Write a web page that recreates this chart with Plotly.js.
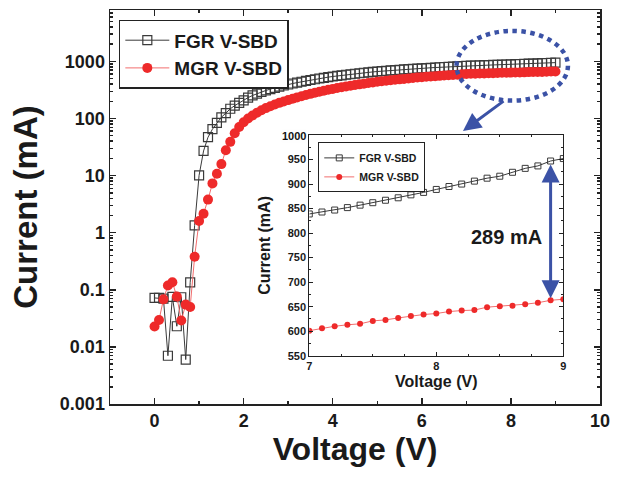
<!DOCTYPE html>
<html>
<head>
<meta charset="utf-8">
<script src="https://cdn.plot.ly/plotly-3.0.1.min.js"></script>
<style>html,body{margin:0;padding:0;background:#fff;}#chart{width:620px;height:478px;}</style>
</head>
<body>
<div id="chart"></div>
<script>
// Voltage (V)
const voltage = [0.0,0.1,0.2,0.3,0.4,0.5,0.6,0.7,0.8,0.9,
  1.0,1.1,1.2,1.3,1.4,1.5,1.6,1.7,1.8,1.9,
  2.0,2.1,2.2,2.3,2.4,2.5,2.6,2.7,2.8,2.9,
  3.0,3.1,3.2,3.3,3.4,3.5,3.6,3.7,3.8,3.9,
  4.0,4.1,4.2,4.3,4.4,4.5,4.6,4.7,4.8,4.9,
  5.0,5.1,5.2,5.3,5.4,5.5,5.6,5.7,5.8,5.9,
  6.0,6.1,6.2,6.3,6.4,6.5,6.6,6.7,6.8,6.9,
  7.0,7.1,7.2,7.3,7.4,7.5,7.6,7.7,7.8,7.9,
  8.0,8.1,8.2,8.3,8.4,8.5,8.6,8.7,8.8,8.9,9.0];
// FGR V-SBD current (mA)
const fgrCurrent = [0.072,0.072,0.07,0.007,0.075,0.023,0.074,0.006,0.135,1.34,
  10.1,27,47,65,84,105,124,148,168,188,
  208,232,253,273,292,310,328,345,362,378,
  394,410,425,440,456,472,487,502,516,530,
  544,557,570,583,596,608,620,632,643,654,
  665,675,685,695,705,714,723,732,741,749,
  757,765,773,781,789,797,805,813,821,830,
  839,843,847,852,857,862,867,872,878,883,
  889,895,900,906,912,916,924,932,937,947,952];
// MGR V-SBD current (mA)
const mgrCurrent = [0.0227,0.0295,0.068,0.119,0.136,0.076,0.029,0.055,0.05,0.38,
  1.6,2.15,3.8,7.3,10.8,15.9,27.8,39,55,71,
  86,100,113,126,139,152,164,176,188,199,
  210,222,234,246,258,270,282,294,306,318,
  330,341,352,363,374,385,396,407,418,429,
  440,449,458,467,476,485,494,503,512,521,
  530,537,544,551,558,565,572,579,586,594,
  601,606,610,613,615,621,623,627,631,634,
  636,640,642,643,649,651,652,655,658,663,665];
const seriesNames = ["FGR V-SBD", "MGR V-SBD"];
const yTickVals = [0.001,0.01,0.1,1,10,100,1000];
const yTickText = ["0.001","0.01","0.1","1","10","100","1000"];
const insetTickVals = [550,600,650,700,750,800,850,900,950,1000];
const insetStart = 70; // index of 7.0 V
const gapLabel = "289 mA";
const gapX = 8.9;

const FONT = "Liberation Sans, Arial, Helvetica, sans-serif";
const BLUE = "#3b52a6";
const insetV = voltage.slice(insetStart);
const insetF = fgrCurrent.slice(insetStart);
const insetM = mgrCurrent.slice(insetStart);
const gi = voltage.indexOf(gapX);
const insetDomX = [0.4067, 0.9251];
const insetDomY = [0.1226, 0.6827];
const insetTop = insetTickVals[insetTickVals.length - 1];

const traces = [
  {x: voltage, y: fgrCurrent, name: seriesNames[0], mode: "lines+markers", xaxis: "x", yaxis: "y",
   line: {color: "#3a3a3a", width: 1},
   marker: {symbol: "square-open", size: 9, color: "#3a3a3a", line: {width: 1.2}}},
  {x: voltage, y: mgrCurrent, name: seriesNames[1], mode: "lines+markers", xaxis: "x", yaxis: "y",
   line: {color: "#f26d6d", width: 1},
   marker: {symbol: "circle", size: 10, color: "#ee2a2a"}},
  {x: insetV, y: insetF, name: seriesNames[0], mode: "lines+markers", xaxis: "x2", yaxis: "y2", legend: "legend2",
   line: {color: "#3a3a3a", width: 1},
   marker: {symbol: "square-open", size: 6, color: "#3a3a3a", line: {width: 1}}},
  {x: insetV, y: insetM, name: seriesNames[1], mode: "lines+markers", xaxis: "x2", yaxis: "y2", legend: "legend2",
   line: {color: "#f26d6d", width: 1},
   marker: {symbol: "circle", size: 6, color: "#ee2a2a"}}
];

const axBase = {showline: true, mirror: "ticks", linecolor: "#222", linewidth: 1.5,
  ticks: "inside", tickcolor: "#222", showgrid: false, zeroline: false};

const layout = {
  width: 620, height: 478,
  margin: {l: 110, r: 20, t: 10, b: 74},
  paper_bgcolor: "#fff", plot_bgcolor: "rgba(0,0,0,0)",
  font: {family: FONT, color: "#1a1a1a"},
  showlegend: true,
  xaxis: Object.assign({}, axBase, {
    domain: [0, 1], anchor: "y", range: [-1, 10], tick0: 0, dtick: 2, ticklen: 6, tickwidth: 1.5,
    minor: {dtick: 1, tick0: 0, ticks: "inside", ticklen: 3, tickcolor: "#222"},
    tickfont: {size: 18, weight: "bold", color: "#1a1a1a"},
    title: {text: "Voltage (V)", font: {size: 32, weight: "bold", color: "#1a1a1a"}, standoff: 6}
  }),
  yaxis: Object.assign({}, axBase, {
    domain: [0, 1], anchor: "x", type: "log", range: [-3, 3.9],
    tickmode: "array", tickvals: yTickVals, ticktext: yTickText, ticklen: 6, tickwidth: 1.5,
    minor: {dtick: "D1", ticks: "inside", ticklen: 3, tickcolor: "#222"},
    tickfont: {size: 18, weight: "bold", color: "#1a1a1a"},
    title: {text: "Current (mA)", font: {size: 33, weight: "bold", color: "#1a1a1a"}, standoff: 12}
  }),
  xaxis2: Object.assign({}, axBase, {
    domain: insetDomX, anchor: "y2", range: [7, 9], tick0: 7, dtick: 1, ticklen: 4, linewidth: 1,
    minor: {dtick: 0.25, ticks: "inside", ticklen: 2, tickcolor: "#222"},
    tickfont: {size: 11, weight: "bold", color: "#1a1a1a"},
    title: {text: "Voltage (V)", font: {size: 16, weight: "bold", color: "#1a1a1a"}, standoff: 4}
  }),
  yaxis2: Object.assign({}, axBase, {
    domain: insetDomY, anchor: "x2", range: [550, 1000],
    tickmode: "array", tickvals: insetTickVals, ticklen: 4, linewidth: 1,
    minor: {tickmode: "linear", tick0: 550, dtick: 25, ticks: "inside", ticklen: 2, tickcolor: "#222"},
    tickfont: {size: 11, weight: "bold", color: "#1a1a1a"},
    title: {text: "Current (mA)", font: {size: 16, weight: "bold", color: "#1a1a1a"}, standoff: 6}
  }),
  legend: {x: 0.018, y: 0.975, xanchor: "left", yanchor: "top", bgcolor: "#fff",
    bordercolor: "#222", borderwidth: 1.5, font: {size: 19, weight: "bold", color: "#1a1a1a"},
    tracegroupgap: 0, itemwidth: 44},
  legend2: {x: 0.425, y: 0.664, xanchor: "left", yanchor: "top", bgcolor: "#fff",
    bordercolor: "#222", borderwidth: 1, font: {size: 10.5, weight: "bold", color: "#1a1a1a"},
    tracegroupgap: 0},
  shapes: [
    {type: "circle", xref: "x", yref: "paper", x0: 6.78, x1: 9.28, y0: 0.77, y1: 0.947,
     line: {color: BLUE, width: 4.5, dash: "dot"}}
  ],
  annotations: [
    {xref: "paper", yref: "paper", x: 0.7204, y: 0.6929, ax: 42, ay: -31, text: "",
     showarrow: true, arrowhead: 2, arrowsize: 1.2, arrowwidth: 3, arrowcolor: BLUE},
    {xref: "x2", yref: "y2", x: voltage[gi], y: mgrCurrent[gi], axref: "x2", ayref: "y2",
     ax: voltage[gi], ay: fgrCurrent[gi], text: "", showarrow: true, arrowside: "end+start",
     arrowhead: 2, arrowsize: 1.2, arrowwidth: 3, arrowcolor: BLUE, standoff: 2, startstandoff: 2},
    {xref: "x2", yref: "y2", x: 8.55, y: 792, text: gapLabel, showarrow: false,
     font: {size: 20, weight: "bold", color: "#1a1a1a"}},
    {xref: "paper", yref: "paper", x: insetDomX[0], y: insetDomY[1], xanchor: "right", yanchor: "middle",
     xshift: -2, yshift: -1, text: "<b>" + String(insetTop) + "</b>", showarrow: false,
     bgcolor: "#fefefe", borderpad: 0,
     font: {size: 11, color: "#111111"}}
  ]
};

Plotly.newPlot("chart", traces, layout, {displayModeBar: false, staticPlot: true});
</script>
</body>
</html>
